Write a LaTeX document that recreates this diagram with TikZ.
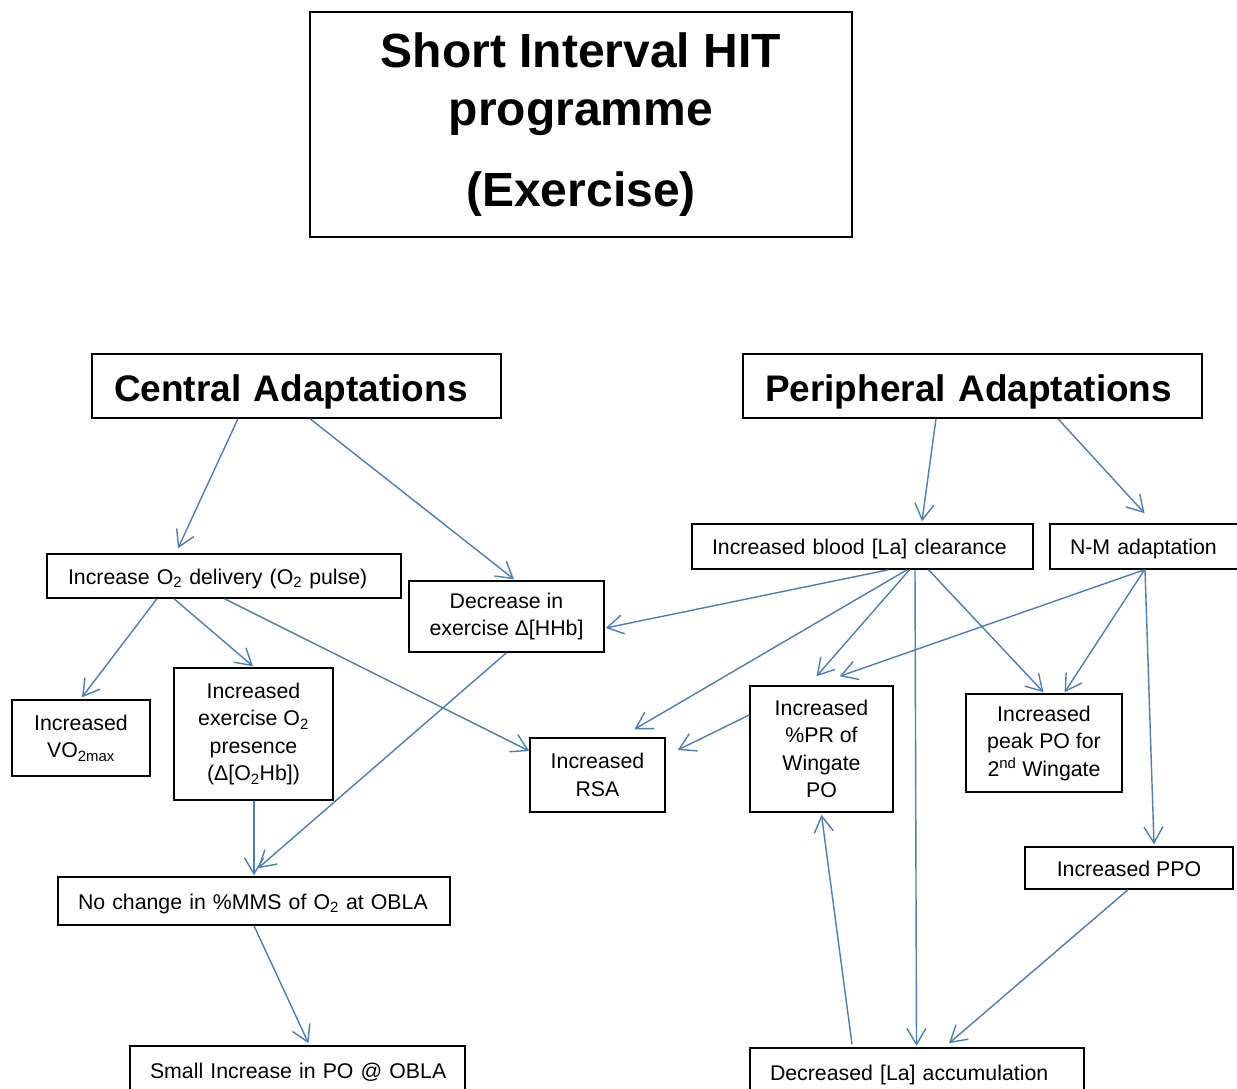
\documentclass[tikz,border=0pt]{standalone}
\usepackage{fontspec}
\setmainfont{Liberation Sans}
\usetikzlibrary{arrows.meta}
\definecolor{arrblue}{HTML}{4A7EBB}
\hbadness=10000 \hfuzz=100pt
\begin{document}
\begin{tikzpicture}[x=1pt,y=-1pt,
  box/.style={draw=black, line width=1.5pt, inner sep=0pt, align=center,
    font=\fontsize{21.3}{27.5}\selectfont},
  one/.style={text height=16pt, text depth=0pt},
  head/.style={box, font=\fontsize{37}{44}\selectfont\bfseries, text height=31pt, text depth=0pt},
  arr/.style={draw=arrblue, line width=1.4pt, -{Straight Barb[length=16pt,width=19pt]}},
]
\clip (0,0) rectangle (1237,1089);
\fill[white] (0,0) rectangle (1237,1089);

% title
\node[box, minimum width=542pt, minimum height=225pt,
  font=\fontsize{48}{58}\selectfont\bfseries] (title) at (581,124.5)
  {Short Interval HIT\\ programme\\[23pt] (Exercise)};

% headers
\node[head, minimum width=409pt, minimum height=64pt, text width=365pt, align=left]
  (cen) at (296.5,386) {Central Adaptations};
\node[head, minimum width=459pt, minimum height=64pt, text width=415pt, align=left]
  (per) at (972.5,386) {Peripheral Adaptations};

% central side
\node[box, one, minimum width=354pt, minimum height=44pt, text width=312pt, align=left]
  (o2) at (224,576) {\mbox{Increase O\textsubscript{2} delivery (O\textsubscript{2} pulse)}};
\node[box, minimum width=195pt, minimum height=71pt]
  (hhb) at (506.5,616.5) {Decrease in\\exercise Δ[HHb]};
\node[box, minimum width=138pt, minimum height=76pt]
  (vo2) at (81,738) {Increased\\VO\textsubscript{2max}};
\node[box, minimum width=159pt, minimum height=132pt]
  (pres) at (253.5,734) {Increased\\exercise O\textsubscript{2}\\presence\\(Δ[O\textsubscript{2}Hb])};
\node[box, minimum width=135pt, minimum height=74pt]
  (rsa) at (597.5,775) {Increased\\RSA};
\node[box, one, minimum width=392pt, minimum height=48pt, text width=352pt, align=left]
  (nochg) at (254,901) {\mbox{No change in \%MMS of O\textsubscript{2} at OBLA}};
\node[box, one, minimum width=335pt, minimum height=48pt, text width=295pt, align=left]
  (small) at (297.5,1070) {\mbox{Small Increase in PO @ OBLA}};

% peripheral side
\node[box, one, minimum width=341pt, minimum height=45pt, text width=301pt, align=left]
  (blood) at (862.5,546.5) {\mbox{Increased blood [La] clearance}};
\node[box, one, minimum width=205pt, minimum height=45pt, text width=165pt, align=left]
  (nm) at (1152.5,546.5) {\mbox{N-M adaptation}};
\node[box, minimum width=143pt, minimum height=126pt]
  (pr) at (821.5,749) {Increased\\\%PR of\\Wingate\\PO};
\node[box, minimum width=156pt, minimum height=98pt]
  (peak) at (1044,743) {Increased\\peak PO for\\2\textsuperscript{nd} Wingate};
\node[box, one, minimum width=208pt, minimum height=42pt]
  (ppo) at (1129,868) {Increased PPO};
\node[box, one, minimum width=334pt, minimum height=48pt, text width=294pt, align=left]
  (decr) at (917,1072) {\mbox{Decreased [La] accumulation}};

% connectors
\draw[arr] ([xshift=-58.5pt]cen.south) -- ([xshift=-46pt,yshift=5pt]o2.north);
\draw[arr] ([xshift=13.5pt]cen.south) -- ([xshift=7.5pt,yshift=1pt]hhb.north);
\draw[arr] ([xshift=-36.5pt]per.south) -- ([xshift=59.5pt,yshift=2pt]blood.north);
\draw[arr] ([xshift=85.5pt]per.south) -- ([xshift=-8pt,yshift=10pt]nm.north);
\draw[arr] ([xshift=-67pt]o2.south) -- ([xshift=1pt,yshift=2pt]vo2.north);
\draw[arr] ([xshift=-50pt]o2.south) -- ([xshift=-0.5pt,yshift=1pt]pres.north);
\draw[arr] ([xshift=0.5pt]o2.south) -- ([yshift=24pt]rsa.west);
\draw[arr] (hhb.south) -- ([xshift=4pt,yshift=8pt]nochg.north);
\draw[arr] ([xshift=0.5pt]pres.south) -- ([yshift=1pt]nochg.north);
\draw[arr] (nochg.south) -- ([xshift=11pt,yshift=2pt]small.north);
\draw[arr] ([xshift=26pt]blood.south) -- ([xshift=1pt,yshift=-11.5pt]hhb.east);
\draw[arr] ([xshift=44.5pt]blood.south) -- ([xshift=37pt,yshift=8pt]rsa.north);
\draw[arr] ([xshift=47pt]blood.south) -- ([xshift=-5pt,yshift=9pt]pr.north);
\draw[arr] ([xshift=52.5pt]blood.south) -- ([xshift=-0.5pt,yshift=1.5pt]decr.north);
\draw[arr] ([xshift=66pt]blood.south) -- ([xshift=-0.5pt,yshift=1pt]peak.north);
\draw[arr] ([xshift=-8pt]nm.south) -- ([xshift=18.3pt,yshift=9pt]pr.north);
\draw[arr] ([xshift=-8pt]nm.south) -- ([xshift=20.6pt,yshift=1pt]peak.north);
\draw[arr] ([xshift=-7.5pt]nm.south) -- ([xshift=25pt,yshift=2pt]ppo.north);
\draw[arr] ([yshift=34pt]pr.west) -- ([xshift=12pt,yshift=25pt]rsa.east);
\draw[arr] ([xshift=-65pt,yshift=3pt]decr.north) -- ([yshift=-2pt]pr.south);
\draw[arr] ([xshift=-1pt]ppo.south) -- ([xshift=32pt,yshift=4pt]decr.north);
\end{tikzpicture}
\end{document}
